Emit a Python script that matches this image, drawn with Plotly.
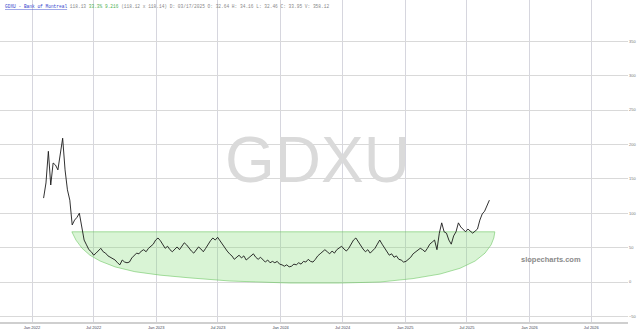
import pandas as pd
import plotly.graph_objects as go

# ---- data ----
start_date = "2022-02-04"
prices = [122, 144, 190, 141, 173, 170, 163, 185, 209, 163,
          134, 119, 83, 90, 94, 100, 83, 61, 54, 47,
          44, 39, 42, 45, 49, 44, 42, 38, 36, 33,
          32, 28, 25, 32, 29, 28, 29, 35, 39, 42,
          41, 45, 47, 44, 49, 52, 55, 61, 64, 60,
          54, 49, 52, 47, 44, 48, 51, 47, 52, 57,
          54, 49, 45, 42, 47, 51, 48, 44, 49, 55,
          60, 64, 61, 65, 60, 54, 49, 45, 41, 38,
          33, 36, 39, 35, 38, 32, 35, 38, 41, 36,
          33, 36, 32, 29, 32, 28, 30, 28, 30, 26,
          25, 23, 25, 22, 23, 26, 25, 28, 26, 30,
          29, 33, 30, 29, 33, 38, 41, 44, 47, 44,
          41, 45, 42, 47, 49, 52, 48, 45, 49, 55,
          61, 64, 58, 52, 48, 44, 47, 42, 45, 49,
          55, 61, 55, 49, 45, 39, 41, 36, 38, 33,
          32, 29, 30, 33, 36, 41, 44, 47, 49, 47,
          44, 49, 55, 58, 61, 47, 71, 86, 73, 71,
          61, 55, 67, 73, 86, 80, 76, 73, 77, 74,
          71, 74, 77, 90, 99, 103, 112, 119]
dates = pd.date_range(start_date, periods=len(prices), freq="7D")

bowl_dates = ["2022-04-28", "2022-05-10", "2022-05-28", "2022-06-20", "2022-07-20",
              "2022-09-02", "2022-10-30", "2023-01-12", "2023-04-10", "2023-08-05",
              "2024-01-28", "2024-06-23", "2024-10-19", "2025-01-24", "2025-04-13",
              "2025-06-11", "2025-07-25", "2025-08-23", "2025-09-10", "2025-09-18",
              "2025-09-21", "2022-04-28"]
bowl_values = [73, 61, 49, 39, 30.5, 22, 15, 10, 6, 1.5,
               -1.5, -1.5, 0, 5, 11.6, 20, 30.5, 42, 54, 64,
               73, 73]

x_ticks = ["2022-01-01", "2022-07-01", "2023-01-01", "2023-07-01", "2024-01-01",
           "2024-07-01", "2025-01-01", "2025-07-01", "2026-01-01", "2026-07-01"]
x_tick_labels = ["Jan 2022", "Jul 2022", "Jan 2023", "Jul 2023", "Jan 2024",
                 "Jul 2024", "Jan 2025", "Jul 2025", "Jan 2026", "Jul 2026"]
y_ticks = [-50, 0, 50, 100, 150, 200, 250, 300, 350]

fig = go.Figure()
fig.add_trace(go.Scatter(
    x=pd.to_datetime(bowl_dates), y=bowl_values, mode="lines", fill="toself",
    fillcolor="rgba(130,220,115,0.30)", line=dict(color="rgba(100,195,90,0.55)", width=1),
    hoverinfo="skip", showlegend=False))
fig.add_trace(go.Scatter(
    x=dates, y=prices, mode="lines", line=dict(color="#1a1a1a", width=0.9),
    showlegend=False))

fig.update_layout(
    width=640, height=334, margin=dict(l=0, r=12, t=0, b=12),
    paper_bgcolor="white", plot_bgcolor="white", showlegend=False,
    xaxis=dict(range=["2021-09-29", "2026-10-17"], tickvals=pd.to_datetime(x_ticks),
               ticktext=x_tick_labels, showgrid=True, gridcolor="#d6d6de", gridwidth=1,
               zeroline=False, showline=True, linecolor="#cfcfcf", linewidth=2,
               ticks="", tickfont=dict(size=4, color="#445", family="Liberation Sans")),
    yaxis=dict(range=[-58.1, 409.9], tickvals=y_ticks, side="right", showgrid=True,
               gridcolor="#d9d9d9", gridwidth=1, zeroline=False, showline=False,
               ticks="", tickfont=dict(size=4, color="#777", family="Liberation Sans")),
)

fig.add_annotation(xref="paper", yref="paper", x=0.506, y=0.503, text="GDXU",
                   showarrow=False, font=dict(size=64, color="#dadada", family="Liberation Sans"))
fig.add_annotation(xref="paper", yref="paper", x=0.928, y=0.174, text="<b>slopecharts.com</b>",
                   showarrow=False, font=dict(size=7.5, color="#8a8a8a", family="Liberation Sans"))
header = ("<span style='color:#3344cc'><u>GDXU - Bank of Montreal</u></span> "
          "<span style='color:#888'>118.13</span> <span style='color:#4caf50'>33.3% 9.216</span> "
          "<span style='color:#888'>(118.12 x 118.14) D: 03/17/2025 O: 32.64 H: 34.16 "
          "L: 32.46 C: 33.95 V: 358.12</span>")
fig.add_annotation(xref="paper", yref="paper", x=0.004, y=0.995, xanchor="left", yanchor="top",
                   text=header, showarrow=False, align="left",
                   font=dict(size=4.5, color="#888", family="Liberation Mono"))

fig.write_html("out.html")
